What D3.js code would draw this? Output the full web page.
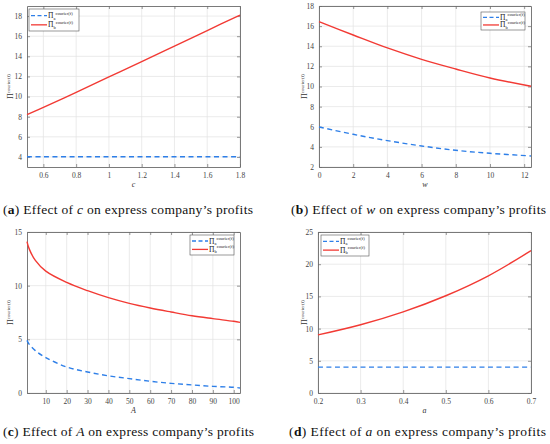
<!DOCTYPE html>
<html><head><meta charset="utf-8">
<script src="https://cdn.jsdelivr.net/npm/d3@7"></script>
<style>
body{margin:0;background:#fff}
svg{display:block}
svg text{font-family:"Liberation Serif","DejaVu Serif",serif}
</style>
</head><body>
<script>
// ---- data ----
// (a) effect of c
const cVals      = [0.5, 0.6, 0.8, 1.0, 1.2, 1.4, 1.6, 1.8];
const cProfitB   = [8.2, 8.93, 10.42, 11.95, 13.48, 15.02, 16.56, 18.1];
const cProfitA   = [4.02, 4.02, 4.02, 4.02, 4.02, 4.02, 4.02, 4.02];
const cXTicks    = [0.6, 0.8, 1, 1.2, 1.4, 1.6, 1.8];
const cYTicks    = [4, 6, 8, 10, 12, 14, 16, 18];
// (b) effect of w
const wVals      = [0, 2, 4, 6, 8, 10, 12.4];
const wProfitB   = [16.44, 15.12, 13.83, 12.7, 11.74, 10.85, 10.02];
const wProfitA   = [5.98, 5.25, 4.62, 4.09, 3.66, 3.36, 3.1];
const wXTicks    = [0, 2, 4, 6, 8, 10, 12];
const wYTicks    = [2, 4, 6, 8, 10, 12, 14, 16, 18];
// (c) effect of A
const AVals      = [1, 2, 5, 10, 20, 30, 40, 50, 60, 70, 80, 90, 100, 103];
const AProfitB   = [14.1, 13.45, 12.35, 11.35, 10.3, 9.53, 8.88, 8.35, 7.92, 7.55, 7.2, 6.93, 6.68, 6.58];
const AProfitA   = [4.9, 4.55, 3.95, 3.3, 2.42, 1.96, 1.6, 1.34, 1.09, 0.9, 0.75, 0.62, 0.53, 0.47];
const AXTicks    = [10, 20, 30, 40, 50, 60, 70, 80, 90, 100];
const AYTicks    = [0, 5, 10, 15];
// (d) effect of a
const aVals      = [0.2, 0.3, 0.4, 0.5, 0.6, 0.7];
const aProfitB   = [9.02, 10.6, 12.6, 15.1, 18.2, 22.1];
const aProfitA   = [4.02, 4.02, 4.02, 4.02, 4.02, 4.02];
const aXTicks    = [0.2, 0.3, 0.4, 0.5, 0.6, 0.7];
const aYTicks    = [0, 5, 10, 15, 20, 25];

const seriesNames = ["a", "b"];        // subscripts of Π
const superText   = "courier(f)";
const captionLetters = ["a", "b", "c", "d"];
const captionVars    = ["c", "w", "A", "a"];
const captionRest    = " on express company\u2019s profits";

const BLUE = "#2e7fe8", RED = "#f23a34";

const svg = d3.select("body").append("svg").attr("width", 550).attr("height", 444);

const panels = [
  {x0:27, x1:240, y0:6, y1:167, xDom:[0.5,1.8], yDom:[3,19], xs:cVals, A:cProfitA, B:cProfitB,
   xt:cXTicks, yt:cYTicks, leg:{x:29,y:9,w:50,h:22}, ylx:10, capX:3, capY:214, capW:250},
  {x0:319, x1:531, y0:6, y1:167, xDom:[0,12.4], yDom:[2,18], xs:wVals, A:wProfitA, B:wProfitB,
   xt:wXTicks, yt:wYTicks, leg:{x:481,y:12,w:44,h:18}, ylx:304, capX:291, capY:214, capW:255},
  {x0:27, x1:240, y0:232, y1:393, xDom:[1,103], yDom:[0,15], xs:AVals, A:AProfitA, B:AProfitB,
   xt:AXTicks, yt:AYTicks, leg:{x:190,y:235,w:44,h:20}, ylx:10, capX:3, capY:436, capW:251},
  {x0:318, x1:531, y0:232, y1:393, xDom:[0.2,0.7], yDom:[0,25], xs:aVals, A:aProfitA, B:aProfitB,
   xt:aXTicks, yt:aYTicks, leg:{x:321,y:235,w:48,h:21}, ylx:304, capX:289, capY:436, capW:257}
];

panels.forEach((p, i) => {
  const x = d3.scaleLinear().domain(p.xDom).range([p.x0, p.x1]);
  const y = d3.scaleLinear().domain(p.yDom).range([p.y1, p.y0]);
  const g = svg.append("g");
  const fmt = d => String(+(+d).toFixed(2));

  // grid
  g.append("g").selectAll("line").data(p.xt).join("line")
    .attr("x1", d => x(d)).attr("x2", d => x(d)).attr("y1", p.y0).attr("y2", p.y1)
    .attr("stroke", "#e3e3e3").attr("stroke-width", 0.7);
  g.append("g").selectAll("line").data(p.yt).join("line")
    .attr("y1", d => y(d)).attr("y2", d => y(d)).attr("x1", p.x0).attr("x2", p.x1)
    .attr("stroke", "#e3e3e3").attr("stroke-width", 0.7);

  // axes
  const styleAxis = sel => {
    sel.attr("font-family", null);
    sel.selectAll("path").attr("stroke", "#6b6b6b").attr("stroke-width", 0.9);
    sel.selectAll("line").attr("stroke", "#6b6b6b").attr("stroke-width", 0.7);
    sel.selectAll("text").attr("font-size", 7.5).attr("fill", "#444");
  };
  g.append("g").attr("transform", `translate(0,${p.y1})`)
    .call(d3.axisBottom(x).tickValues(p.xt).tickFormat(fmt).tickSizeInner(-3).tickSizeOuter(0).tickPadding(6))
    .call(styleAxis);
  g.append("g").attr("transform", `translate(0,${p.y0})`)
    .call(d3.axisTop(x).tickValues(p.xt).tickFormat("").tickSizeInner(-3).tickSizeOuter(0))
    .call(styleAxis);
  g.append("g").attr("transform", `translate(${p.x0},0)`)
    .call(d3.axisLeft(y).tickValues(p.yt).tickFormat(fmt).tickSizeInner(-3).tickSizeOuter(0).tickPadding(5))
    .call(styleAxis);
  g.append("g").attr("transform", `translate(${p.x1},0)`)
    .call(d3.axisRight(y).tickValues(p.yt).tickFormat("").tickSizeInner(-3).tickSizeOuter(0))
    .call(styleAxis);

  // lines
  const line = d3.line().x((d, k) => x(p.xs[k])).y(d => y(d)).curve(d3.curveCatmullRom.alpha(0.5));
  g.append("path").datum(p.A).attr("d", line).attr("fill", "none")
    .attr("stroke", BLUE).attr("stroke-width", 1.4).attr("stroke-dasharray", "5,3.5");
  g.append("path").datum(p.B).attr("d", line).attr("fill", "none")
    .attr("stroke", RED).attr("stroke-width", 1.4);

  // legend
  const L = p.leg;
  const lg = g.append("g");
  lg.append("rect").attr("x", L.x).attr("y", L.y).attr("width", L.w).attr("height", L.h)
    .attr("fill", "#fff").attr("stroke", "#555").attr("stroke-width", 0.6);
  seriesNames.forEach((s, k) => {
    const cy = L.y + L.h * (k === 0 ? 0.3 : 0.72);
    lg.append("line").attr("x1", L.x + 2).attr("x2", L.x + 18).attr("y1", cy).attr("y2", cy)
      .attr("stroke", k === 0 ? BLUE : RED).attr("stroke-width", 1.3)
      .attr("stroke-dasharray", k === 0 ? "4,2.5" : null);
    const t = lg.append("text").attr("x", L.x + 19).attr("y", cy + 2.5)
      .attr("font-size", 7.5).attr("fill", "#222");
    t.append("tspan").text("\u03A0");
    t.append("tspan").attr("font-size", 4.5).attr("dy", 1.5).text(s);
    t.append("tspan").attr("font-size", 4.5).attr("dy", -5).text(superText);
  });

  // x label
  g.append("text").attr("x", (p.x0 + p.x1) / 2).attr("y", p.y1 + 20)
    .attr("text-anchor", "middle").attr("font-style", "italic")
    .attr("font-size", 8).attr("fill", "#333").text(captionVars[i]);
  // y label
  const yl = g.append("text").attr("transform", `translate(${p.ylx + 3},${(p.y0 + p.y1) / 2}) rotate(-90)`)
    .attr("text-anchor", "middle").attr("font-size", 8).attr("fill", "#333");
  yl.append("tspan").text("\u03A0");
  yl.append("tspan").attr("font-size", 5).attr("dy", -3.5).text(superText);

  // caption
  const cap = svg.append("text").attr("x", p.capX).attr("y", p.capY)
    .attr("font-size", 13.5).attr("fill", "#111")
    .attr("textLength", p.capW).attr("lengthAdjust", "spacing");
  cap.append("tspan").text("(");
  cap.append("tspan").attr("font-weight", "bold").text(captionLetters[i]);
  cap.append("tspan").text(") Effect of ");
  cap.append("tspan").attr("font-style", "italic").text(captionVars[i]);
  cap.append("tspan").text(captionRest);
});
</script>
</body></html>
